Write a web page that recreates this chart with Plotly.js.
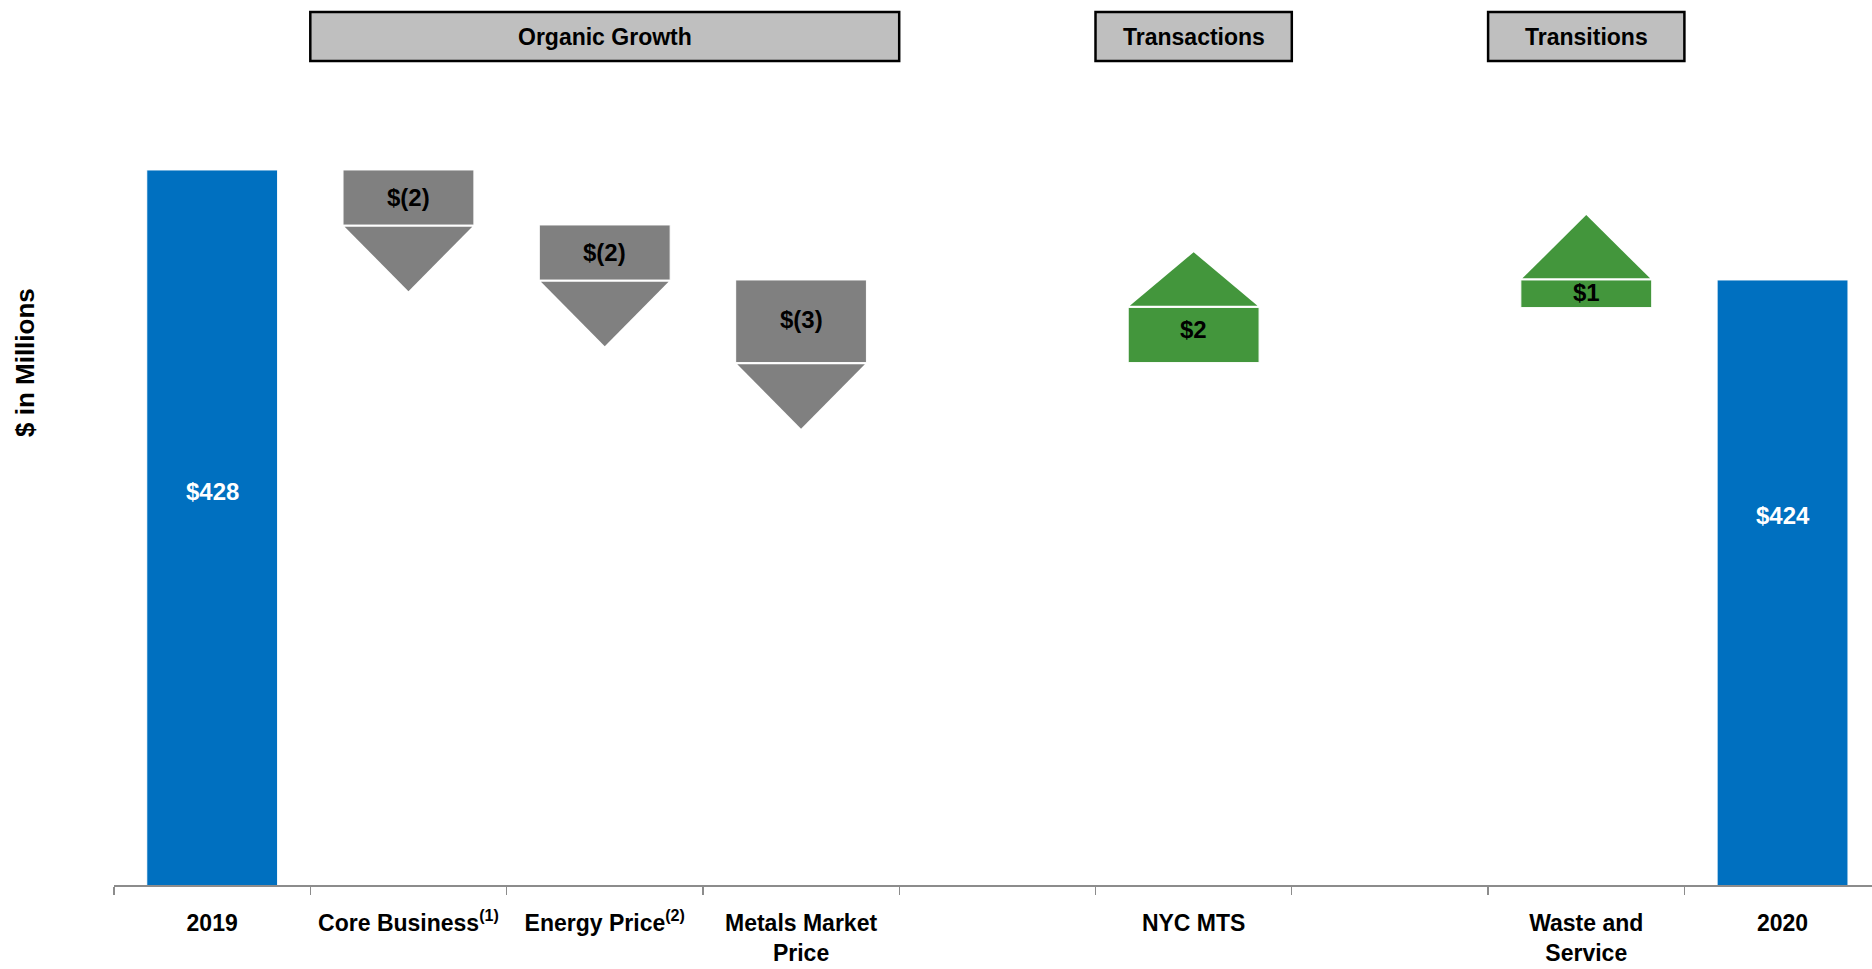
<!DOCTYPE html>
<html>
<head>
<meta charset="utf-8">
<script src="https://cdn.plot.ly/plotly-3.0.1.min.js"></script>
<style>
  html, body { margin: 0; padding: 0; background: #ffffff; }
  #chart { width: 1872px; height: 969px; }
</style>
</head>
<body>
<div id="chart"></div>
<script>
// ---- Data ----
const categories = ['2019', 'Core Business<sup>(1)</sup>', 'Energy Price<sup>(2)</sup>', 'Metals Market<br>Price', ' ', 'NYC MTS', '  ', 'Waste and<br>Service', '2020'];
const measures = ['absolute', 'relative', 'relative', 'relative', 'none', 'relative', 'none', 'relative', 'total'];
const values = [428, -2, -2, -3, null, 2, null, 1, 424];
const groupNames = ['Organic Growth', 'Transactions', 'Transitions'];
const groupFirst = [1, 5, 7];
const groupLast = [3, 5, 7];
const yAxisTitle = '$ in Millions';

// ---- Styles ----
const FONT = 'Arial, "Liberation Sans", Helvetica, sans-serif';
const BLUE = '#0070C0', GRAY = '#808080', GREEN = '#43963C';
const arrowLen = [0, 2.35, 2.35, 2.35, 0, 1.95, 0, 2.3, 0]; // arrow head heights (axis units)
const labelShift = [0, 0, 0, 0.05, 0, 0.2, 0, 0.05, 0];    // small label nudges (axis units)
const totalLabelFrac = 0.55; // relative height of total labels inside the total bars
const yMin = 402, pxPerUnit = 27.5, plotBottom = 885, W = 1872, H = 969, L = 114;
const yMax = yMin + plotBottom / pxPerUnit;
const xMax = -0.5 + (W - L) / 196.3;

// ---- Build bars from data ----
const bases = [], heights = [], colors = [];
let running = 0;
values.forEach((v, i) => {
  const m = measures[i];
  if (m === 'absolute') { bases.push(0); heights.push(v); running = v; colors.push(BLUE); }
  else if (m === 'total') { bases.push(0); heights.push(running); colors.push(BLUE); }
  else if (m === 'relative') { bases.push(running); heights.push(v); running += v; colors.push(v < 0 ? GRAY : GREEN); }
  else { bases.push(null); heights.push(null); colors.push('rgba(0,0,0,0)'); }
});

const traces = [{
  type: 'bar', x: categories, y: heights, base: bases, width: 0.667,
  marker: { color: colors, line: { color: 'rgba(255,255,255,0.9)', width: 1.2 } },
  hoverinfo: 'skip', showlegend: false
}];

const annotations = [];
const hw = 0.325, gap = 0.06;
values.forEach((v, i) => {
  const m = measures[i];
  if (m === 'relative') {
    const end = bases[i] + v;
    const dir = v < 0 ? -1 : 1;
    const b = end + dir * gap;
    const tip = b + dir * arrowLen[i];
    traces.push({
      type: 'scatter', xaxis: 'x2', yaxis: 'y', mode: 'lines',
      x: [i - hw, i + hw, i, i - hw], y: [b, b, tip, b],
      fill: 'toself', fillcolor: colors[i], line: { width: 0, color: colors[i] },
      hoverinfo: 'skip', showlegend: false
    });
    const txt = v < 0 ? '$(' + Math.abs(v) + ')' : '$' + v;
    annotations.push({
      xref: 'x2', yref: 'y', x: i, y: bases[i] + v / 2 + labelShift[i], text: txt, showarrow: false,
      font: { family: FONT, size: 24, color: '#000000', weight: 'bold' },
      xanchor: 'center', yanchor: 'middle'
    });
  } else if (m === 'absolute' || m === 'total') {
    const top = heights[i];
    annotations.push({
      xref: 'x2', yref: 'y', x: i, y: yMin + totalLabelFrac * (top - yMin) + (m === 'total' ? 1.35 : 0),
      text: '$' + top, showarrow: false,
      font: { family: FONT, size: 24, color: '#ffffff', weight: 'bold' },
      xanchor: 'center', yanchor: 'middle'
    });
  }
});

// group header boxes
const shapes = [];
const pY = p => (plotBottom - p) / plotBottom;
groupNames.forEach((g, k) => {
  shapes.push({
    type: 'rect', xref: 'x2', yref: 'paper',
    x0: groupFirst[k] - 0.5, x1: groupLast[k] + 0.5, y0: pY(61), y1: pY(12),
    fillcolor: '#BFBFBF', line: { color: '#000000', width: 2.5 }, layer: 'above'
  });
  annotations.push({
    xref: 'x2', yref: 'paper', x: (groupFirst[k] + groupLast[k]) / 2, y: pY(36.5),
    text: g, showarrow: false,
    font: { family: FONT, size: 23, color: '#000000', weight: 'bold' },
    xanchor: 'center', yanchor: 'middle'
  });
});

// y axis title
annotations.push({
  xref: 'paper', yref: 'paper', x: (25 - L) / (W - L), y: pY(363),
  text: yAxisTitle, textangle: -90, showarrow: false,
  font: { family: FONT, size: 26, color: '#000000', weight: 'bold' },
  xanchor: 'center', yanchor: 'middle'
});

const layout = {
  width: W, height: H,
  margin: { l: L, r: 0, t: 0, b: H - plotBottom },
  paper_bgcolor: '#ffffff', plot_bgcolor: '#ffffff',
  showlegend: false, hovermode: false,
  xaxis: {
    type: 'category', categoryorder: 'array', categoryarray: categories,
    range: [-0.5, xMax], tickson: 'boundaries', ticks: 'outside', ticklen: 8,
    tickcolor: '#8c8c8c', tickwidth: 1.2, showline: true, linecolor: '#8c8c8c', linewidth: 1.5,
    showgrid: false, zeroline: false, tickangle: 0, ticklabelstandoff: 17,
    tickfont: { family: FONT, size: 23, color: '#000000', weight: 'bold' },
    fixedrange: true
  },
  xaxis2: {
    overlaying: 'x', range: [-0.5, xMax], visible: false, fixedrange: true
  },
  yaxis: {
    range: [yMin, yMax], visible: false, showgrid: false, zeroline: false, fixedrange: true
  },
  shapes: shapes,
  annotations: annotations
};

Plotly.newPlot('chart', traces, layout, { staticPlot: true, displayModeBar: false });
</script>
</body>
</html>
